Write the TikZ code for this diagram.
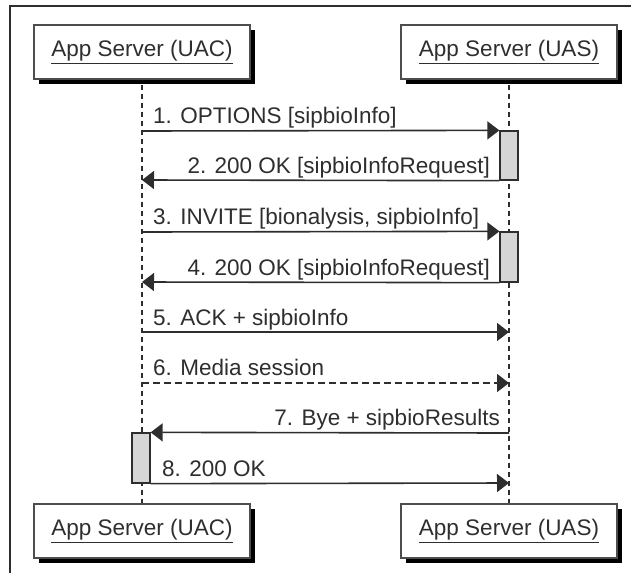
\documentclass[tikz,border=0pt]{standalone}
\usepackage{fontspec}
\setmainfont{Liberation Sans}
\usetikzlibrary{arrows.meta}
\definecolor{ink}{HTML}{2E2E2E}
\definecolor{barfill}{HTML}{D6D6D6}
\tikzset{
  actor/.style={draw=ink!85, line width=1.3pt, fill=white, minimum width=216pt, minimum height=54pt, inner sep=0pt, font=\fontsize{22.5}{24}\selectfont, text=ink},
  shadowbox/.style={fill=black, minimum width=216pt, minimum height=54pt, inner sep=0pt},
  lifeline/.style={draw=ink, line width=1.1pt, dash pattern=on 5pt off 4pt},
  actbar/.style={draw=ink, line width=1.3pt, fill=barfill, minimum width=18pt, inner sep=0pt},
  msg/.style={draw=ink, line width=1.6pt, -{Triangle[length=12pt,width=18pt]}},
  dmsg/.style={msg, dash pattern=on 7pt off 4pt},
  lbl/.style={font=\fontsize{22.5}{24}\selectfont, text=ink, inner sep=0pt},
}
\begin{document}
\begin{tikzpicture}[x=1pt,y=-1pt]
\useasboundingbox (0,0) rectangle (631,573);
\fill[white] (0,0) rectangle (631,573);
% frame
\draw[ink, line width=1.6pt] (10,573) -- (10,6) -- (631,6);
% actor boxes with shadows
\node[shadowbox] at (147,57) {};
\node[shadowbox] at (514,57) {};
\node[shadowbox] at (147,536) {};
\node[shadowbox] at (514,536) {};
\node[actor] (uac) at (142,52) {\underline{App Server (UAC)}};
\node[actor] (uas) at (509,52) {\underline{App Server (UAS)}};
\node[actor] (uacb) at (142,531) {\underline{App Server (UAC)}};
\node[actor] (uasb) at (509,531) {\underline{App Server (UAS)}};
% lifelines
\draw[lifeline] ([yshift=-5pt]uac.south) -- (uacb.north);
\draw[lifeline] ([yshift=-5pt]uas.south) -- (uasb.north);
% activation bars
\node[actbar, minimum height=49pt] (a1) at (509,155.5) {};
\node[actbar, minimum height=50pt] (a2) at (509,257) {};
\node[actbar, minimum height=50pt] (a3) at (141,458) {};
% lifeline coordinates
\coordinate (c1) at (142,131);
\coordinate (c2) at (142,180);
\coordinate (c3) at (142,232);
\coordinate (c4) at (142,282);
\coordinate (c5) at (142,332);
\coordinate (s5) at (509,332);
\coordinate (c6) at (142,383);
\coordinate (s6) at (509,383);
\coordinate (s7) at (509,433);
\coordinate (s8) at (509,483);
% messages
\draw[msg] (c1) -- (a1.north west);
\node[lbl, anchor=base west] (l1) at (153,123) {1. OPTIONS [sipbioInfo]};
\draw[msg] (a1.south west) -- (c2);
\node[lbl, anchor=base east] (l2) at (490,173) {2. 200 OK [sipbioInfoRequest]};
\draw[msg] (c3) -- (a2.north west);
\node[lbl, anchor=base west] (l3) at (153,224) {3. INVITE [bionalysis, sipbioInfo]};
\draw[msg] (a2.south west) -- (c4);
\node[lbl, anchor=base east] (l4) at (490,275) {4. 200 OK [sipbioInfoRequest]};
\draw[msg] (c5) -- (s5);
\node[lbl, anchor=base west] (l5) at (153,325) {5. ACK + sipbioInfo};
\draw[dmsg] (c6) -- (s6);
\node[lbl, anchor=base west] (l6) at (153,375) {6. Media session};
\draw[msg] (s7) -- (a3.north east);
\node[lbl, anchor=base east] (l7) at (500,425) {7. Bye + sipbioResults};
\draw[msg] (a3.south east) -- (s8);
\node[lbl, anchor=base west] (l8) at (162,476) {8. 200 OK};
\end{tikzpicture}
\end{document}
